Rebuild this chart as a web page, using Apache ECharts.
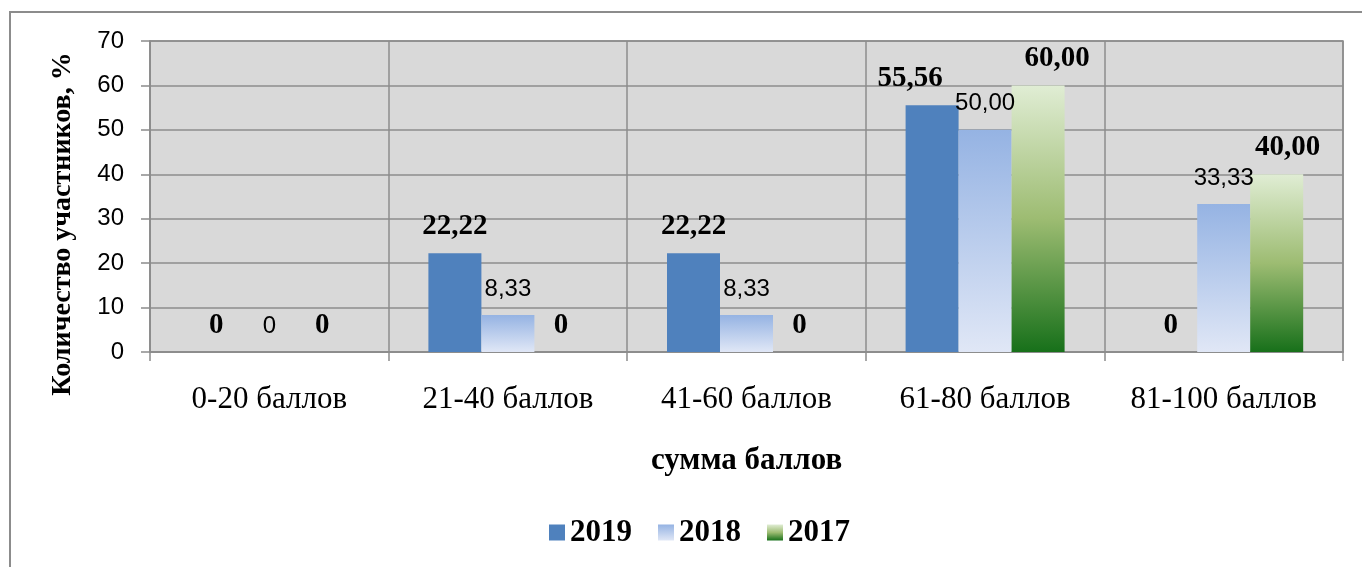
<!DOCTYPE html>
<html>
<head>
<meta charset="utf-8">
<script src="https://cdn.jsdelivr.net/npm/echarts@6/dist/echarts.min.js"></script>
<style>
  html, body { margin: 0; padding: 0; background: #fff; }
  #chart { width: 1362px; height: 567px; }
</style>
</head>
<body>
<div id="chart"></div>
<script>
  // данные диаграммы
  const categories = ['0-20 баллов', '21-40 баллов', '41-60 баллов', '61-80 баллов', '81-100 баллов']
  const years = ['2019', '2018', '2017']
  const values2019 = [0, 22.22, 22.22, 55.56, 0]
  const values2018 = [0, 8.33, 8.33, 50.00, 33.33]
  const values2017 = [0, 0, 0, 60.00, 40.00]
  const yTicks = [0, 10, 20, 30, 40, 50, 60, 70]

  // сдвиг подписей по горизонтали (как в исходном рисунке)
  const nudge2019 = [0, 0, 0, -22, 0]
  const nudge2017 = [0, 0, 0, 19, 11]

  const serif = '"Liberation Serif", "Times New Roman", serif'
  const sans = '"Liberation Sans", Arial, sans-serif'

  const fmt = p => p.value === 0 ? '0' : p.value.toFixed(2).replace('.', ',')

  const boldLabel = {
    show: true,
    position: 'top',
    distance: 12,
    fontFamily: serif,
    fontWeight: 'bold',
    fontSize: 29,
    color: '#000',
    formatter: fmt
  }
  const plainLabel = {
    show: true,
    position: 'top',
    distance: 14,
    fontFamily: sans,
    fontSize: 24,
    color: '#000',
    formatter: fmt
  }

  const withNudge = (vals, nudge) => vals.map((v, i) => nudge[i] ? { value: v, label: { offset: [nudge[i], 0] } } : v)

  const chart = echarts.init(document.getElementById('chart'))
  chart.setOption({
    animation: false,
    graphic: [{
      type: 'rect',
      shape: { x: 10, y: 12, width: 1400, height: 620 },
      style: { fill: 'none', stroke: '#8c8c8c', lineWidth: 2 },
      silent: true
    }, {
      // подпись оси Y
      type: 'text',
      x: 63,
      y: 224,
      rotation: Math.PI / 2,
      style: {
        text: 'Количество участников, %',
        fontFamily: serif,
        fontWeight: 'bold',
        fontSize: 28,
        fill: '#000',
        align: 'center',
        verticalAlign: 'middle'
      },
      silent: true
    }],
    grid: {
      left: 150,
      top: 41,
      right: 19,
      bottom: 215,
      show: true,
      backgroundColor: '#d9d9d9',
      borderColor: '#8c8c8c',
      borderWidth: 1.5
    },
    legend: {
      data: years,
      bottom: 14,
      left: 544,
      itemWidth: 16,
      itemHeight: 16,
      itemGap: 26,
      icon: 'rect',
      textStyle: {
        fontFamily: serif,
        fontWeight: 'bold',
        fontSize: 31,
        color: '#000'
      }
    },
    xAxis: {
      type: 'category',
      data: categories,
      name: 'сумма баллов',
      nameLocation: 'middle',
      nameGap: 93,
      nameTextStyle: { fontFamily: serif, fontWeight: 'bold', fontSize: 31, color: '#000' },
      axisLine: { lineStyle: { color: '#8c8c8c', width: 1.5 } },
      axisTick: { show: true, interval: 0, length: 9, lineStyle: { color: '#8c8c8c', width: 1.5 } },
      axisLabel: { interval: 0, fontFamily: serif, fontSize: 31, color: '#000', margin: 32 },
      splitLine: { show: true, interval: 0, lineStyle: { color: '#8c8c8c', width: 1.5 } }
    },
    yAxis: {
      type: 'value',
      min: yTicks[0],
      max: yTicks[yTicks.length - 1],
      interval: 10,
      axisLine: { show: true, lineStyle: { color: '#8c8c8c', width: 1.5 } },
      axisTick: { show: true, length: 9, lineStyle: { color: '#8c8c8c', width: 1.5 } },
      axisLabel: { fontFamily: sans, fontSize: 24, color: '#000', margin: 26 },
      splitLine: { show: true, lineStyle: { color: '#8c8c8c', width: 1.5 } }
    },
    series: [
      {
        name: years[0],
        type: 'bar',
        barWidth: 53,
        barGap: '0%',
        itemStyle: { color: '#4f81bd' },
        label: boldLabel,
        data: withNudge(values2019, nudge2019)
      },
      {
        name: years[1],
        type: 'bar',
        barWidth: 53,
        barGap: '0%',
        itemStyle: {
          color: new echarts.graphic.LinearGradient(0, 0, 0, 1, [
            { offset: 0, color: '#95b3e3' },
            { offset: 1, color: '#e0e7f6' }
          ])
        },
        label: plainLabel,
        data: values2018
      },
      {
        name: years[2],
        type: 'bar',
        barWidth: 53,
        barGap: '0%',
        itemStyle: {
          color: new echarts.graphic.LinearGradient(0, 0, 0, 1, [
            { offset: 0, color: '#e0edd4' },
            { offset: 0.5, color: '#9dbc72' },
            { offset: 1, color: '#17701a' }
          ])
        },
        label: boldLabel,
        data: withNudge(values2017, nudge2017)
      }
    ]
  })
</script>
</body>
</html>
